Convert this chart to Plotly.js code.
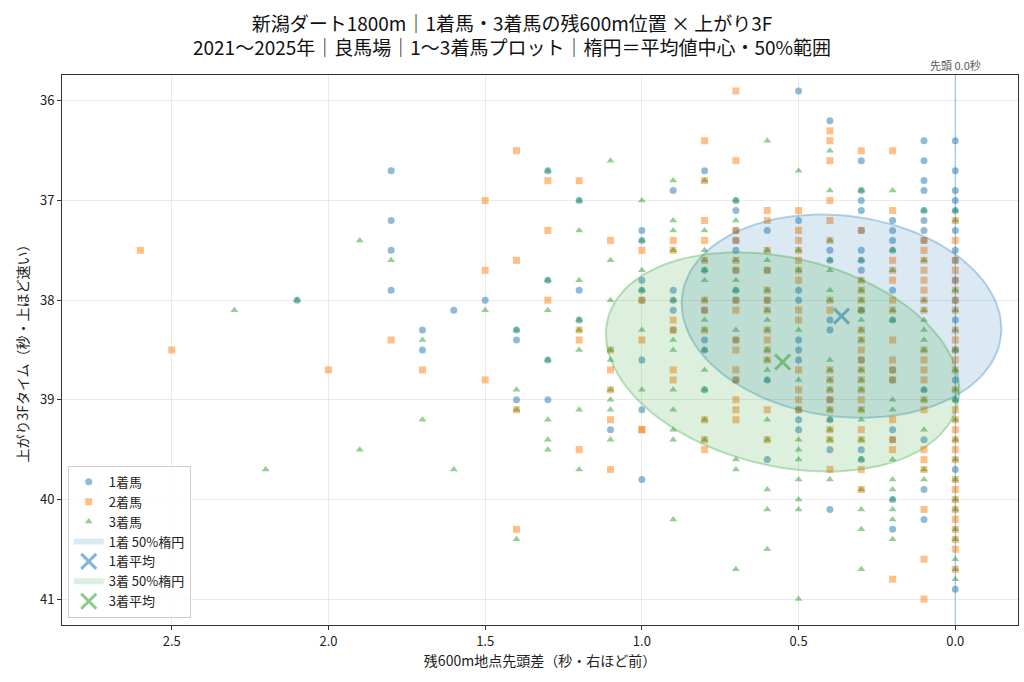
<!DOCTYPE html>
<html>
<head>
<meta charset="utf-8">
<script src="https://cdn.plot.ly/plotly-3.0.1.min.js"></script>
<style>
  body { margin: 0; background: #fff; }
  #chart_area { width: 1024px; height: 682px; }
</style>
</head>
<body>
<div id="chart_area"></div>
<script>
// 残600m先頭差 (sec) -> list of 上がり3F times, per finishing position
var first = [
    [2.1, [38.0]],
    [1.8, [36.7, 37.2, 37.5, 37.9]],
    [1.7, [38.3, 38.5]],
    [1.6, [38.1]],
    [1.5, [38.0]],
    [1.4, [38.3, 38.4, 39.0]],
    [1.3, [36.7, 37.8, 38.6, 39.0]],
    [1.2, [37.0, 37.9, 38.2]],
    [1.1, [39.3]],
    [1.0, [37.3, 37.4, 37.8, 37.9, 38.0, 38.6, 39.1, 39.8]],
    [0.9, [36.9, 37.9, 38.0, 38.1, 38.3]],
    [0.8, [36.7, 37.7, 38.1, 38.4, 38.5, 38.9]],
    [0.7, [37.0, 37.1, 37.3, 37.4, 37.5, 37.7, 37.9, 38.0, 38.4, 38.8]],
    [0.6, [37.3, 37.7, 38.0, 38.8, 39.6]],
    [0.5, [35.9, 37.2, 37.9, 38.0, 38.4, 38.5, 38.6, 39.1, 39.2, 39.3]],
    [0.4, [36.2, 37.5, 37.6, 38.2, 38.3, 39.0, 39.2, 39.5, 40.1]],
    [0.3, [36.6, 36.9, 37.0, 37.1, 37.3, 37.5, 37.6, 37.7, 38.1, 38.6, 39.5, 39.6]],
    [0.2, [37.2, 37.3, 37.4, 37.5, 37.9, 38.2, 38.7, 38.8, 39.3, 39.4, 40.0, 40.3]],
    [0.1, [36.4, 36.6, 36.8, 36.9, 37.1, 37.2, 37.3, 37.4, 38.9, 39.4, 39.9, 40.2]],
    [0.0, [36.4, 36.7, 36.9, 37.0, 37.1, 37.3, 37.5, 37.6, 37.8, 38.0, 38.2, 38.5, 38.8, 39.0, 39.7, 40.9]]
];

var second = [
    [2.6, [37.5]],
    [2.5, [38.5]],
    [2.0, [38.7]],
    [1.8, [38.4]],
    [1.7, [38.7]],
    [1.5, [37.0, 37.7, 38.8]],
    [1.4, [36.5, 37.6, 39.1, 40.3]],
    [1.3, [36.8, 37.3, 38.0]],
    [1.2, [36.8, 38.3, 38.4, 39.5]],
    [1.1, [37.4, 38.5, 38.7, 38.9, 39.2, 39.7]],
    [1.0, [37.5, 38.0, 38.4, 39.3, 39.3]],
    [0.9, [37.4, 37.5, 38.2, 38.3, 38.7, 38.8]],
    [0.8, [36.4, 36.8, 37.2, 37.4, 37.6, 38.0, 38.1, 38.3, 39.2, 39.4, 39.5]],
    [0.7, [35.9, 36.6, 37.3, 37.4, 37.6, 37.7, 38.0, 38.1, 38.4, 38.5, 38.7, 38.8, 39.0, 39.1, 39.2]],
    [0.6, [37.1, 37.2, 37.5, 37.7, 37.9, 38.0, 38.1, 38.3, 38.4, 38.5, 38.6, 39.1, 39.4]],
    [0.5, [37.1, 37.3, 37.4, 37.5, 37.6, 37.7, 37.8, 38.1, 38.2, 38.7, 38.9, 39.0, 39.1]],
    [0.4, [36.3, 36.4, 36.6, 37.0, 37.2, 37.4, 38.0, 38.1, 38.7, 38.8, 38.9, 39.0, 39.1, 39.3, 39.4, 39.7]],
    [0.3, [36.5, 37.3, 37.8, 37.9, 38.0, 38.1, 38.3, 38.4, 38.5, 38.6, 38.7, 38.8, 38.9, 39.0, 39.1, 39.3, 39.4, 39.7, 39.9]],
    [0.2, [36.5, 37.1, 37.6, 37.7, 37.8, 38.0, 38.1, 38.4, 38.6, 38.7, 38.8, 39.2, 39.4, 39.5, 40.8]],
    [0.1, [37.4, 37.5, 37.6, 37.7, 37.8, 37.9, 38.0, 38.1, 38.5, 38.6, 38.7, 38.8, 39.0, 39.1, 39.5, 39.6, 39.7, 40.1, 40.6, 41.0]],
    [0.0, [37.2, 37.4, 37.6, 37.7, 37.8, 37.9, 38.0, 38.1, 38.3, 38.4, 38.5, 38.6, 38.7, 38.9, 39.1, 39.2, 39.3, 39.4, 39.5, 39.6, 39.8, 39.9, 40.0, 40.1, 40.2, 40.3, 40.4, 40.5, 40.7]]
];

var third = [
    [2.3, [38.1]],
    [2.2, [39.7]],
    [2.1, [38.0]],
    [1.9, [37.4, 39.5]],
    [1.8, [37.6]],
    [1.7, [38.4, 39.2]],
    [1.6, [39.7]],
    [1.5, [38.1]],
    [1.4, [38.3, 38.9, 39.1, 40.4]],
    [1.3, [36.7, 37.8, 38.1, 38.6, 39.2, 39.4, 39.5]],
    [1.2, [37.0, 37.3, 37.8, 38.2, 38.3, 38.5, 39.1, 39.7]],
    [1.1, [36.6, 37.6, 38.0, 38.5, 38.6, 38.9, 39.0, 39.1, 39.4]],
    [1.0, [37.0, 37.4, 37.7, 37.9, 38.3, 38.9]],
    [0.9, [36.8, 37.2, 37.3, 37.5, 38.0, 38.4, 38.5, 38.9, 39.1, 39.3, 39.4, 40.2]],
    [0.8, [36.8, 37.3, 37.5, 37.6, 37.7, 37.8, 38.0, 38.2, 38.3, 38.5, 38.7, 38.9, 39.2, 39.4]],
    [0.7, [37.0, 37.2, 37.6, 37.8, 37.9, 38.3, 39.6, 39.7, 40.7]],
    [0.6, [36.4, 37.5, 37.6, 37.9, 38.1, 38.2, 38.3, 38.5, 38.6, 38.7, 38.8, 39.2, 39.4, 39.9, 40.1, 40.5]],
    [0.5, [36.7, 37.5, 37.7, 38.3, 38.8, 39.4, 39.5, 39.6, 39.8, 40.0, 40.1, 41.0]],
    [0.4, [36.5, 36.9, 37.4, 37.6, 37.7, 37.9, 38.0, 38.6, 38.7, 38.8, 38.9, 39.1, 39.2, 39.3, 39.4, 39.8]],
    [0.3, [36.9, 37.6, 37.8, 37.9, 38.0, 38.1, 38.2, 38.3, 38.4, 38.7, 38.8, 38.9, 39.1, 39.2, 39.4, 39.6, 39.9, 40.1, 40.3, 40.7]],
    [0.2, [36.9, 37.5, 37.7, 38.1, 38.2, 39.0, 39.1, 39.6, 39.8, 39.9, 40.0, 40.1, 40.2, 40.4]],
    [0.1, [37.1, 37.6, 38.0, 38.1, 38.2, 38.3, 38.4, 38.5, 38.9, 39.0, 39.3, 39.7, 39.8]],
    [0.0, [37.1, 37.2, 37.9, 38.1, 38.3, 38.5, 38.7, 38.9, 39.0, 39.2, 39.4, 39.6, 39.8, 40.0, 40.1, 40.3, 40.4, 40.6, 40.7, 40.8]]
];

// ellipse: [mean x, mean y, half width x, half height y, correlation]
var ellipse1 = [0.363, 38.16, 0.51, 1.02, -0.125];
var ellipse3 = [0.551, 38.62, 0.564, 1.10, -0.254];

var blue = '31, 119, 180';
var orange = '255, 127, 14';
var green = '44, 160, 44';

function flatten(cols) {
    var xs = [], ys = [];
    cols.forEach(function (c) {
        c[1].forEach(function (y) {
            xs.push(c[0]);
            ys.push(y);
        });
    });
    return {x: xs, y: ys};
}

// 50% range ellipse outline from center / spread / correlation
function ellipsePath(e) {
    var xs = [], ys = [];
    var k = Math.sqrt(1 - e[4] * e[4]);
    for (var i = 0; i <= 120; i++) {
        var t = 2 * Math.PI * i / 120;
        xs.push(e[0] + e[2] * Math.cos(t));
        ys.push(e[1] + e[3] * (e[4] * Math.cos(t) + k * Math.sin(t)));
    }
    return {x: xs, y: ys};
}

function pointTrace(cols, name, symbol, rgb) {
    var p = flatten(cols);
    return {
        x: p.x, y: p.y, type: 'scatter', mode: 'markers', name: name,
        marker: {symbol: symbol, size: 7, color: 'rgba(' + rgb + ', 0.5)', line: {width: 0}}
    };
}

// filled area (shown in legend as a box) + its outline
function ellipseTraces(e, name, rgb) {
    var p = ellipsePath(e);
    return [{
        x: p.x, y: p.y, type: 'scatter', mode: 'none', name: name,
        fill: 'toself', fillcolor: 'rgba(' + rgb + ', 0.16)'
    }, {
        x: p.x, y: p.y, type: 'scatter', mode: 'lines', showlegend: false,
        line: {color: 'rgba(' + rgb + ', 0.3)', width: 2}
    }];
}

function meanTrace(e, name, rgb) {
    return {
        x: [e[0]], y: [e[1]], type: 'scatter', mode: 'markers', name: name,
        marker: {symbol: 'x-thin', size: 15, line: {width: 3, color: 'rgba(' + rgb + ', 0.55)'}}
    };
}

var data = [
    pointTrace(first, '1着馬', 'circle', blue),
    pointTrace(second, '2着馬', 'square', orange),
    pointTrace(third, '3着馬', 'triangle-up', green)
].concat(
    ellipseTraces(ellipse1, '1着 50%楕円', blue),
    [meanTrace(ellipse1, '1着平均', blue)],
    ellipseTraces(ellipse3, '3着 50%楕円', green),
    [meanTrace(ellipse3, '3着平均', green)]
);

var font = '"Noto Sans CJK JP", "Noto Sans", sans-serif';

var layout = {
    width: 1024,
    height: 682,
    margin: {l: 62, r: 6, t: 75, b: 57},
    paper_bgcolor: '#fff',
    plot_bgcolor: '#fff',
    font: {family: font, size: 12, color: '#222'},
    title: {
        text: '新潟ダート1800m｜1着馬・3着馬の残600m位置 × 上がり3F<br>2021〜2025年｜良馬場｜1〜3着馬プロット｜楕円＝平均値中心・50%範囲',
        xref: 'container', x: 0.5, yref: 'container', y: 0.955, yanchor: 'middle',
        font: {family: font, size: 19, color: '#111'}
    },
    xaxis: {
        range: [2.85, -0.2],
        dtick: 0.5,
        tickformat: '.1f',
        tickfont: {size: 13},
        ticks: 'outside', ticklen: 4, tickcolor: '#333',
        showline: true, mirror: true, linecolor: '#333', linewidth: 1,
        gridcolor: 'rgba(0,0,0,0.08)', zeroline: false,
        title: {text: '残600m地点先頭差（秒・右ほど前）', font: {size: 14}, standoff: 6}
    },
    yaxis: {
        range: [41.26, 35.74],
        dtick: 1,
        tickfont: {size: 13},
        ticks: 'outside', ticklen: 4, tickcolor: '#333',
        showline: true, mirror: true, linecolor: '#333', linewidth: 1,
        gridcolor: 'rgba(0,0,0,0.08)', zeroline: false,
        title: {text: '上がり3Fタイム（秒・上ほど速い）', font: {size: 14}, standoff: 8}
    },
    legend: {
        x: 0.006, y: 0.013, xanchor: 'left', yanchor: 'bottom',
        bgcolor: 'rgba(255,255,255,0.85)', bordercolor: '#ccc', borderwidth: 1,
        font: {size: 13}, tracegroupgap: 0
    },
    shapes: [{
        type: 'line', xref: 'x', yref: 'paper', x0: 0, x1: 0, y0: 0, y1: 1,
        line: {color: 'rgba(31, 119, 180, 0.45)', width: 1}
    }],
    annotations: [{
        xref: 'x', yref: 'paper', x: 0, y: 1, yanchor: 'bottom', showarrow: false,
        text: '先頭 0.0秒', font: {size: 11, color: '#555'}
    }]
};

var config = {displayModeBar: false, staticPlot: true};

Plotly.newPlot('chart_area', data, layout, config);
</script>
</body>
</html>
